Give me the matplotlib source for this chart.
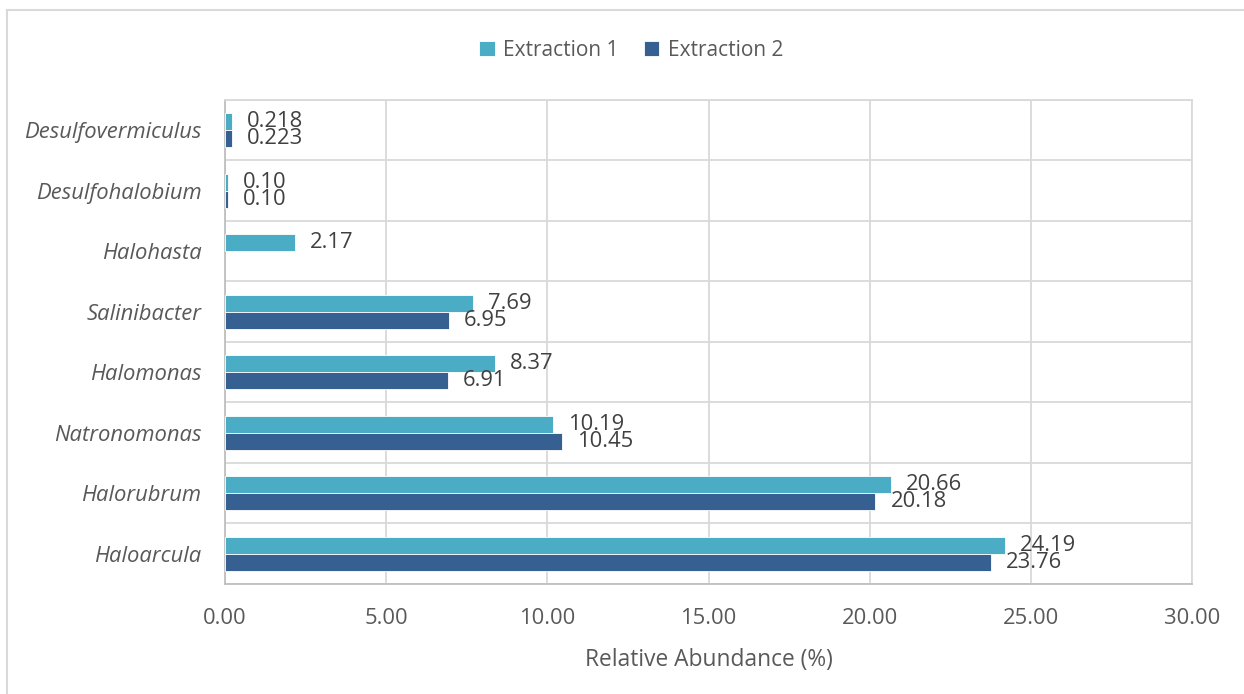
import numpy as np
import matplotlib.pyplot as plt
from matplotlib.lines import Line2D

plt.rcParams['font.family'] = ['Open Sans', 'DejaVu Sans']

genera = ['Haloarcula', 'Halorubrum', 'Natronomonas', 'Halomonas',
          'Salinibacter', 'Halohasta', 'Desulfohalobium', 'Desulfovermiculus']
ext1 = [24.19, 20.66, 10.19, 8.37, 7.69, 2.17, 0.10, 0.218]
ext2 = [23.76, 20.18, 10.45, 6.91, 6.95, None, 0.10, 0.223]
ext1_lbl = ['24.19', '20.66', '10.19', '8.37', '7.69', '2.17', '0.10', '0.218']
ext2_lbl = ['23.76', '20.18', '10.45', '6.91', '6.95', '', '0.10', '0.223']
xticks = [0, 5, 10, 15, 20, 25, 30]

c1 = '#4BACC6'
c2 = '#366092'
txt = '#595959'
grid = '#D9D9D9'
fs = 15.8

fig = plt.figure(figsize=(12.44, 6.94), dpi=100)
ax = fig.add_axes([0.1809, 0.1585, 0.9582 - 0.1809, 0.856 - 0.1585])

y = np.arange(len(genera))
h = 0.28
v2 = [v if v is not None else np.nan for v in ext2]
ax.barh(y + h / 2, ext1, height=h, color=c1, edgecolor='white', linewidth=0.6,
        label='Extraction 1', zorder=3)
ax.barh(y - h / 2, v2, height=h, color=c2, edgecolor='white', linewidth=0.6,
        label='Extraction 2', zorder=3)

for i in range(len(genera)):
    ax.annotate(ext1_lbl[i], (ext1[i], y[i] + h / 2), xytext=(15, 0),
                textcoords='offset pixels', va='center', ha='left',
                fontsize=fs, color='#404040')
    if ext2[i] is not None:
        ax.annotate(ext2_lbl[i], (ext2[i], y[i] - h / 2), xytext=(15, 0),
                    textcoords='offset pixels', va='center', ha='left',
                    fontsize=fs, color='#404040')

ax.set_xlim(0, 30)
ax.set_ylim(-0.5, len(genera) - 0.5)
ax.set_xticks(xticks)
ax.set_xticklabels(['%.2f' % t for t in xticks])
ax.set_yticks(y)
ax.set_yticklabels(genera, fontstyle='italic')
ax.set_yticks(np.arange(-0.5, len(genera), 1), minor=True)
ax.tick_params(axis='both', which='both', length=0, labelsize=fs, colors=txt)
ax.tick_params(axis='x', pad=17)
ax.tick_params(axis='y', pad=17)
ax.grid(axis='x', which='major', color=grid, linewidth=1.3, zorder=0)
ax.grid(axis='y', which='minor', color=grid, linewidth=1.3, zorder=0)
for s in ax.spines.values():
    s.set_color(grid)
    s.set_linewidth(1.3)
ax.spines['left'].set_color('#BFBFBF')
ax.spines['bottom'].set_color('#BFBFBF')

ax.set_xlabel('Relative Abundance (%)', fontsize=fs + 0.6, color=txt, labelpad=14)

ax.legend(loc='center', bbox_to_anchor=(0.5 + 9 / 1244, 1 - 50 / 694),
          bbox_transform=fig.transFigure, ncol=2, frameon=False,
          fontsize=fs - 0.8, labelcolor=txt, handlelength=0.75,
          handleheight=0.75, handletextpad=0.4, columnspacing=1.2)

# chart border
fig.add_artist(Line2D([7.5 / 1244, 1.0], [1 - 9.5 / 694] * 2, color='#D9D9D9', lw=1.5))
fig.add_artist(Line2D([7.5 / 1244] * 2, [0, 1 - 9.5 / 694], color='#D9D9D9', lw=1.5))

fig.savefig('out.png', dpi=100)
